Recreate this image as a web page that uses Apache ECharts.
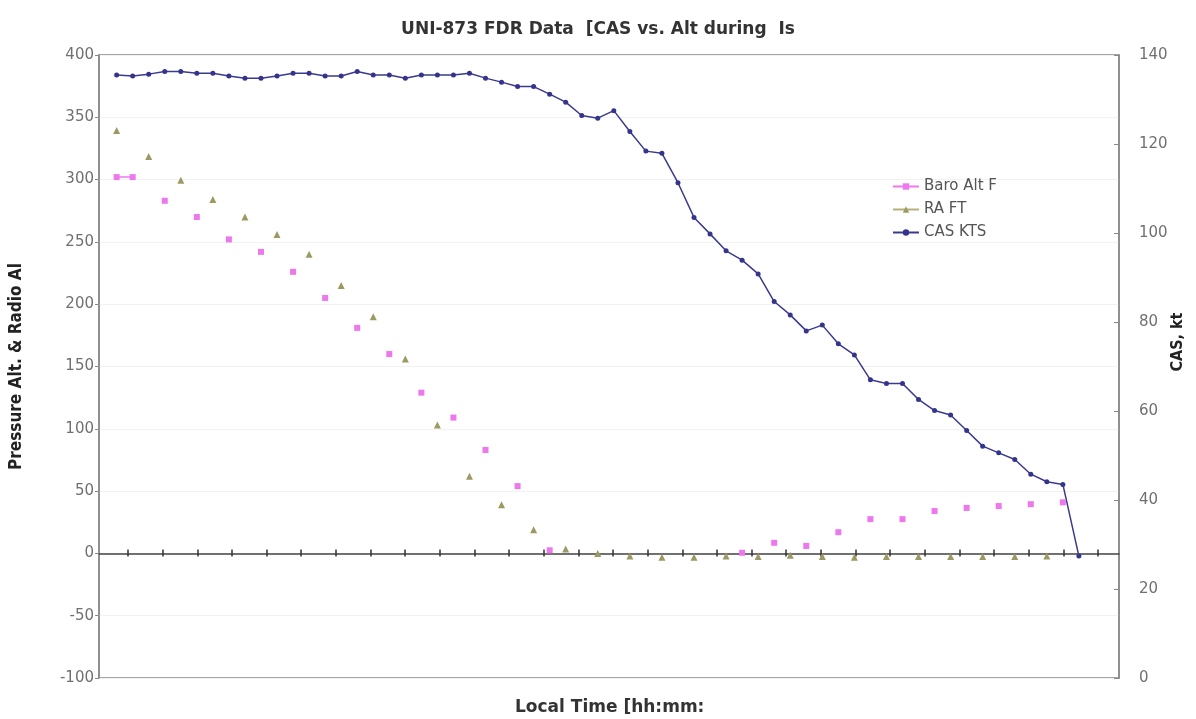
<!DOCTYPE html>
<html>
<head>
<meta charset="utf-8">
<script src="https://cdn.jsdelivr.net/npm/echarts@6/dist/echarts.min.js"></script>
<style>html,body{margin:0;padding:0;background:#fff}#c{width:1196px;height:719px}</style>
</head>
<body>
<div id="c"></div>
<script>
// ---- data (sample index along local time) ----
const casKts = [135.5,135.3,135.7,136.3,136.3,135.9,135.9,135.3,134.8,134.8,
  135.3,135.9,135.9,135.3,135.3,136.3,135.5,135.5,134.8,135.5,
  135.5,135.5,135.9,134.8,133.9,132.9,132.9,131.2,129.4,126.4,
  125.8,127.5,122.8,118.4,117.9,111.3,103.5,99.8,96.0,93.9,
  90.8,84.6,81.6,78.0,79.3,75.1,72.6,67.0,66.2,66.2,
  62.6,60.1,59.1,55.6,52.1,50.6,49.1,45.8,44.1,43.5,
  27.4];
const baroAlt = [302,302,null,283,null,270,null,252,null,242,
  null,226,null,205,null,181,null,160,null,129,
  null,109,null,83,null,54,null,2.5,null,null,
  null,null,null,null,null,null,null,null,null,0.5,
  null,8.5,null,6,null,17,null,27.5,null,27.5,
  null,34,null,36.5,null,38,null,39.5,null,41,
  null];
const raFt = [339.5,null,318.6,null,299.4,null,284,null,270,null,
  256,null,240,null,215,null,190,null,156,null,
  103,null,62,null,39,null,19,null,3.5,null,
  0,null,-2,null,-3,null,-3,null,-2,null,
  -2.5,null,-1.5,null,-2.5,null,-3,null,-2.5,null,
  -2.5,null,-2.5,null,-2.5,null,-2.5,null,-2,null,
  null];
const leftTicks = {min:-100, max:400, step:50};
const rightTicks = {min:0, max:140, step:20};
const timeTickCount = 28;

const toXY = arr => arr.map((v,i) => [i, v === null ? '-' : v]);

const chart = echarts.init(document.getElementById('c'), null, {renderer:'canvas'});
const lblFont = 'DejaVu Sans';
const nameFont = 'DejaVu Sans Condensed, Liberation Sans, sans-serif';
chart.setOption({
  backgroundColor:'#fff',
  animation:false,
  title:[
    {text:'UNI-873 FDR Data  [CAS vs. Alt during  Is', left:'center', top:16,
     textStyle:{fontFamily:lblFont, fontSize:17, fontWeight:'bold', color:'#333'}},
    {text:'Local Time [hh:mm:', left:510, top:694,
     textStyle:{fontFamily:lblFont, fontSize:17, fontWeight:'bold', color:'#333'}}
  ],
  graphic:[
    {type:'text', x:1178, y:342, rotation:Math.PI/2,
     style:{text:'CAS, kt', fill:'#222', font:'bold 16px "DejaVu Sans Condensed", sans-serif',
            align:'center', verticalAlign:'middle'}}
  ],
  legend:{
    orient:'vertical', left:887, top:174, itemWidth:26, itemHeight:8, itemGap:8,
    textStyle:{fontFamily:lblFont, fontSize:15, color:'#555'},
    data:['Baro Alt F','RA FT','CAS KTS']
  },
  grid:[
    {left:97, right:77, top:55, bottom:41, show:true, borderColor:'#888', borderWidth:1.5},
    {left:128, right:98, top:549.5, height:7}
  ],
  xAxis:[
    {type:'value', gridIndex:0, min:-1.1, max:62.5,
     axisLine:{show:true, onZero:true, onZeroAxisIndex:0, lineStyle:{color:'#444', width:1.5}},
     axisTick:{show:false}, axisLabel:{show:false}, splitLine:{show:false}},
    {type:'value', gridIndex:1, min:0, max:timeTickCount, interval:1, position:'bottom',
     axisLine:{show:false, onZero:false}, axisTick:{show:true, inside:true, length:7, lineStyle:{color:'#333', width:1.5}},
     axisLabel:{show:false}, splitLine:{show:false}}
  ],
  yAxis:[
    {type:'value', gridIndex:0, min:leftTicks.min, max:leftTicks.max, interval:leftTicks.step, position:'left',
     name:'Pressure Alt. & Radio Al', nameLocation:'middle', nameGap:74, nameRotate:90,
     nameTextStyle:{fontFamily:nameFont, fontWeight:'bold', fontSize:17, color:'#222'},
     axisLine:{show:true, onZero:false, lineStyle:{color:'#888', width:1.5}},
     axisTick:{show:true, length:4, lineStyle:{color:'#888'}},
     axisLabel:{fontFamily:lblFont, fontSize:15, color:'#707070', margin:5},
     splitLine:{show:true, lineStyle:{color:'#f2f2f2', width:1}}},
    {type:'value', gridIndex:0, min:rightTicks.min, max:rightTicks.max, interval:rightTicks.step, position:'right',
     axisLine:{show:true, onZero:false, lineStyle:{color:'#888', width:1.5}},
     axisTick:{show:true, inside:true, length:5, lineStyle:{color:'#888'}},
     axisLabel:{fontFamily:lblFont, fontSize:15, color:'#707070', margin:20},
     splitLine:{show:false}},
    {type:'value', gridIndex:1, min:0, max:1, show:false}
  ],
  series:[
    {name:'Baro Alt F', type:'line', xAxisIndex:0, yAxisIndex:0, data:toXY(baroAlt),
     connectNulls:false, symbol:'rect', symbolSize:6, showSymbol:true,
     itemStyle:{color:'#ee77ee'}, lineStyle:{color:'#ee77ee', width:1.5}},
    {name:'RA FT', type:'line', xAxisIndex:0, yAxisIndex:0, data:toXY(raFt),
     connectNulls:false, symbol:'triangle', symbolSize:7, showSymbol:true,
     itemStyle:{color:'#9c9a62'}, lineStyle:{color:'#b4b27a', width:1.5}},
    {name:'CAS KTS', type:'line', xAxisIndex:0, yAxisIndex:1, data:toXY(casKts),
     symbol:'circle', symbolSize:5, showSymbol:true,
     itemStyle:{color:'#34348c'}, lineStyle:{color:'#3a3a90', width:1.5}}
  ]
});
</script>
</body>
</html>
